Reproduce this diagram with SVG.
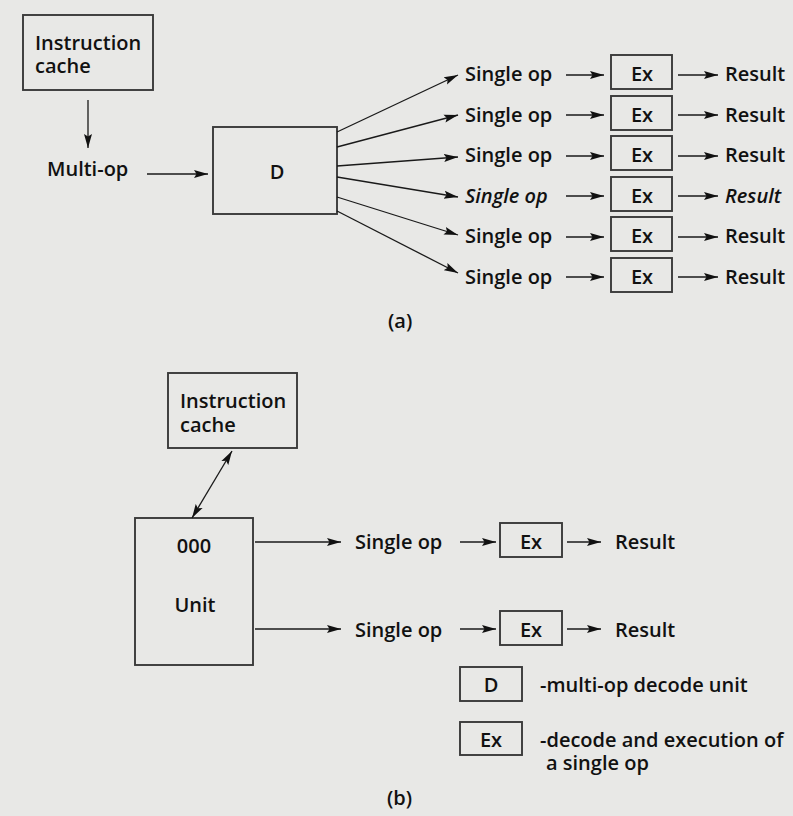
<svg xmlns="http://www.w3.org/2000/svg" width="793" height="816" viewBox="0 0 793 816">
<defs>
<marker id="ah" markerUnits="userSpaceOnUse" markerWidth="15" markerHeight="10" refX="14" refY="5" orient="auto-start-reverse">
<path d="M0,1 L14,5 L0,9 L2.5,5 z" fill="#111"/>
</marker>
<style>
.bx{fill:none;stroke:#3a3a3a;stroke-width:1.9}
.t{font-family:"Open Sans","DejaVu Sans",sans-serif;font-size:20px;font-weight:600;fill:#111}
.c{text-anchor:middle}
.ln{stroke:#1a1a1a;stroke-width:1.3;fill:none;marker-end:url(#ah)}
</style>
</defs>
<rect x="0" y="0" width="793" height="816" fill="#e8e8e6"/>

<!-- (a) -->
<g id="icache_a"><rect class="bx" x="23" y="15" width="130" height="75"/><text class="t" x="35" y="50">Instruction</text><text class="t" x="35" y="73">cache</text></g>
<g id="multiop"><text class="t" x="47" y="176">Multi-op</text></g>
<g id="D"><rect class="bx" x="213" y="127" width="124" height="87"/><text class="t c" x="277" y="179">D</text></g>

<g id="row1"><text class="t" x="465" y="81">Single op</text><rect class="bx" x="611" y="55" width="61" height="34"/><text class="t c" x="642" y="81">Ex</text><text class="t" x="725" y="81">Result</text></g>
<g id="row2"><text class="t" x="465" y="122">Single op</text><rect class="bx" x="611" y="96" width="61" height="34"/><text class="t c" x="642" y="122">Ex</text><text class="t" x="725" y="122">Result</text></g>
<g id="row3"><text class="t" x="465" y="162">Single op</text><rect class="bx" x="611" y="136" width="61" height="34"/><text class="t c" x="642" y="162">Ex</text><text class="t" x="725" y="162">Result</text></g>
<g id="row4"><text class="t" x="465" y="203" font-style="italic">Single op</text><rect class="bx" x="611" y="177" width="61" height="34"/><text class="t c" x="642" y="203">Ex</text><text class="t" x="725" y="203" font-style="italic">Result</text></g>
<g id="row5"><text class="t" x="465" y="243">Single op</text><rect class="bx" x="611" y="217" width="61" height="34"/><text class="t c" x="642" y="243">Ex</text><text class="t" x="725" y="243">Result</text></g>
<g id="row6"><text class="t" x="465" y="284">Single op</text><rect class="bx" x="611" y="258" width="61" height="34"/><text class="t c" x="642" y="284">Ex</text><text class="t" x="725" y="284">Result</text></g>
<g id="label_a"><text class="t" x="388" y="328">(a)</text></g>

<!-- (b) -->
<g id="icache_b"><rect class="bx" x="168" y="373" width="129" height="75"/><text class="t" x="180" y="408">Instruction</text><text class="t" x="180" y="432">cache</text></g>
<g id="ooo"><rect class="bx" x="135" y="518" width="118" height="147"/><text class="t c" x="194" y="553">000</text><text class="t c" x="195" y="612">Unit</text></g>
<g id="brow1"><text class="t" x="355" y="549">Single op</text><rect class="bx" x="500" y="523" width="62" height="34"/><text class="t c" x="531" y="549">Ex</text><text class="t" x="615" y="549">Result</text></g>
<g id="brow2"><text class="t" x="355" y="637">Single op</text><rect class="bx" x="500" y="611" width="62" height="34"/><text class="t c" x="531" y="637">Ex</text><text class="t" x="615" y="637">Result</text></g>
<g id="legend_D"><rect class="bx" x="460" y="667" width="62" height="34"/><text class="t c" x="491" y="692">D</text><text class="t" x="540" y="692">-multi-op decode unit</text></g>
<g id="legend_Ex"><rect class="bx" x="460" y="722" width="62" height="33"/><text class="t c" x="491" y="747">Ex</text><text class="t" x="540" y="747">-decode and execution of</text><text class="t" x="546" y="770">a single op</text></g>
<g id="label_b"><text class="t" x="387" y="805">(b)</text></g>

<g id="connectors">
<line class="ln" x1="88" y1="100" x2="88" y2="148"/>
<line class="ln" x1="147" y1="174" x2="208" y2="174"/>
<line class="ln" x1="337" y1="132" x2="458" y2="75"/>
<line class="ln" x1="337" y1="147" x2="458" y2="115"/>
<line class="ln" x1="337" y1="166" x2="458" y2="157"/>
<line class="ln" x1="337" y1="177" x2="458" y2="197"/>
<line class="ln" x1="337" y1="197" x2="458" y2="235"/>
<line class="ln" x1="337" y1="211" x2="458" y2="273"/>
<line class="ln" x1="566" y1="75" x2="604" y2="75"/>
<line class="ln" x1="566" y1="115" x2="604" y2="115"/>
<line class="ln" x1="566" y1="156" x2="604" y2="156"/>
<line class="ln" x1="566" y1="196" x2="604" y2="196"/>
<line class="ln" x1="566" y1="237" x2="604" y2="237"/>
<line class="ln" x1="566" y1="277" x2="604" y2="277"/>
<line class="ln" x1="678" y1="75" x2="718" y2="75"/>
<line class="ln" x1="678" y1="115" x2="718" y2="115"/>
<line class="ln" x1="678" y1="156" x2="718" y2="156"/>
<line class="ln" x1="678" y1="196" x2="718" y2="196"/>
<line class="ln" x1="678" y1="237" x2="718" y2="237"/>
<line class="ln" x1="678" y1="277" x2="718" y2="277"/>
<line class="ln" x1="192" y1="518" x2="232" y2="451" marker-start="url(#ah)"/>
<line class="ln" x1="255" y1="542" x2="341" y2="542"/>
<line class="ln" x1="255" y1="629" x2="341" y2="629"/>
<line class="ln" x1="460" y1="542" x2="496" y2="542"/>
<line class="ln" x1="460" y1="629" x2="496" y2="629"/>
<line class="ln" x1="567" y1="542" x2="601" y2="542"/>
<line class="ln" x1="567" y1="629" x2="601" y2="629"/>
</g>
</svg>
